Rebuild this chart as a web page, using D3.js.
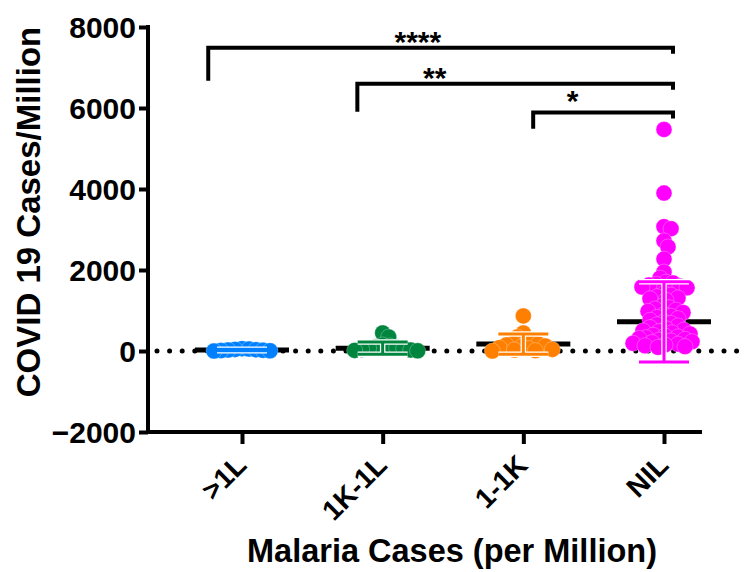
<!DOCTYPE html>
<html><head><meta charset="utf-8">
<script src="https://cdn.jsdelivr.net/npm/d3@7"></script>
<style>
body{margin:0;background:#fff}
svg{display:block}
text{font-family:"Liberation Sans",Arial,Helvetica,sans-serif;font-weight:bold;fill:#000}
</style>
</head><body>
<svg id="chart" width="748" height="572"></svg>
<script>
// ---------- data ----------
const categories = [">1L", "1K-1L", "1-1K", "NIL"];
const groupColors = ["#0080ff", "#00853f", "#ff8000", "#ff00ff"];

const valuesOver1L = [0, 6, 12, 18, 25, 32, 40, 48, 58];
const values1Kto1L = [445, 345, 150, 125, 105, 90, 70, 55, 40, 25, 15, 5];
const values1to1K = [865, 445, 345, 260, 230, 200, 175, 150, 125, 100, 80, 60, 40, 25, 10, 0];
const valuesNIL = [5470, 3900, 3070, 3020, 2720, 2570, 2270, 1950, 1800,
  1700, 1680, 1650, 1630, 1600, 1580, 1560,
  1420, 1380, 1340, 1310, 1290, 1250,
  1100, 1070, 1040, 1010, 980,
  950, 900, 860, 830, 800,
  760, 720, 680, 650, 620,
  580, 550, 520, 500, 480, 450, 420,
  390, 370, 350, 330, 310, 290, 270, 250, 230, 210,
  190, 170, 150, 130, 110, 90];

const groupMeans = [25, 70, 170, 720];
const groupSD = [20, 150, 250, 990];

const yTickValues = [-2000, 0, 2000, 4000, 6000, 8000];
const xTitle = "Malaria Cases (per Million)";
const yTitle = "COVID 19 Cases/Million";

const comparisonLabels = ["****", "**", "*"];
const comparisonFrom = [0, 1, 2];
const comparisonTo = [3, 3, 3];

// ---------- layout ----------
const svg = d3.select("#chart");
const axisX = 148, axisTop = 25, axisBottom = 432;
const y = d3.scaleLinear().domain([-2000, 8000]).range([432, 27]);
const x = d3.scalePoint().domain(categories).range([242, 664]);
const xi = d3.scaleLinear().domain([0, categories.length - 1]).range([242, 664]);

const groups = [valuesOver1L, values1Kto1L, values1to1K, valuesNIL];
const R = 8, DMIN = 7;

// zero dotted line
svg.append("line")
  .attr("x1", axisX + 9).attr("x2", 748)
  .attr("y1", y(0)).attr("y2", y(0))
  .attr("stroke", "#000").attr("stroke-width", 5)
  .attr("stroke-linecap", "round").attr("stroke-dasharray", "0,12.6");

// mean lines (behind dots)
categories.forEach((c, i) => {
  svg.append("line")
    .attr("x1", x(c) - 47).attr("x2", x(c) + 47)
    .attr("y1", y(groupMeans[i])).attr("y2", y(groupMeans[i]))
    .attr("stroke", "#000").attr("stroke-width", 5);
});

// beeswarm layout
function swarm(vals) {
  const pts = vals.map(v => ({ v, py: y(v) })).sort((a, b) => b.v - a.v);
  const placed = [];
  pts.forEach((p, idx) => {
    const sgn = idx % 2 ? 1 : -1;
    for (let k = 0; k < 400; k++) {
      const off = (k % 2 ? sgn : -sgn) * Math.ceil(k / 2);
      let ok = true;
      for (const q of placed) {
        const dx = off - q.off, dy = p.py - q.py;
        if (dx * dx + dy * dy < DMIN * DMIN) { ok = false; break; }
      }
      if (ok) { p.off = off; break; }
    }
    placed.push(p);
  });
  return placed;
}

groups.forEach((vals, i) => {
  const cx = x(categories[i]);
  const pts = swarm(vals);
  svg.append("g").selectAll("circle").data(pts).join("circle")
    .attr("cx", d => cx + d.off).attr("cy", d => d.py).attr("r", R)
    .attr("fill", groupColors[i]).attr("stroke", "#fff").attr("stroke-opacity", 0.45).attr("stroke-width", 0.6);
});

// error bars (SD)
categories.forEach((c, i) => {
  const cx = x(c);
  const lo = y(groupMeans[i] - groupSD[i]), hi = y(groupMeans[i] + groupSD[i]);
  const g = svg.append("g");
  [["#fff", 5.5], [groupColors[i], 3]].forEach(([col, w]) => {
    g.append("line").attr("x1", cx).attr("x2", cx).attr("y1", hi).attr("y2", lo)
      .attr("stroke", col).attr("stroke-width", w);
    [hi, lo].forEach(yy => g.append("line")
      .attr("x1", cx - 25).attr("x2", cx + 25).attr("y1", yy).attr("y2", yy)
      .attr("stroke", col).attr("stroke-width", w));
  });
});

// y axis
const yAxis = d3.axisLeft(y).tickValues(yTickValues).tickSize(9).tickPadding(3).tickFormat(d3.format("d"));
const gy = svg.append("g").attr("transform", `translate(${axisX},0)`).call(yAxis);
gy.select(".domain").remove();
gy.selectAll(".tick line").attr("stroke", "#000").attr("stroke-width", 4);
gy.selectAll(".tick text").attr("font-size", 30).attr("font-family", "Liberation Sans, Arial, sans-serif").attr("font-weight", "bold").attr("dy", "0.36em");
svg.append("line").attr("x1", axisX).attr("x2", axisX).attr("y1", axisTop).attr("y2", axisBottom + 2)
  .attr("stroke", "#000").attr("stroke-width", 4);

// x axis
svg.append("line").attr("x1", axisX - 2).attr("x2", 702).attr("y1", axisBottom).attr("y2", axisBottom)
  .attr("stroke", "#000").attr("stroke-width", 4);
const xAxis = d3.axisBottom(x).tickSize(12).tickFormat("");
const gx = svg.append("g").attr("transform", `translate(0,${axisBottom})`).call(xAxis);
gx.select(".domain").remove();
gx.selectAll(".tick line").attr("stroke", "#000").attr("stroke-width", 4);
svg.append("g").selectAll("text").data(categories).join("text")
  .attr("transform", d => `translate(${x(d) + 6},467) rotate(-45)`)
  .attr("text-anchor", "end").attr("font-size", 28).text(d => d);

// titles
svg.append("text").attr("x", 452).attr("y", 562).attr("text-anchor", "middle")
  .attr("font-size", 32.5).text(xTitle);
svg.append("text").attr("transform", "translate(40,212) rotate(-90)").attr("text-anchor", "middle")
  .attr("font-size", 33).text(yTitle);

// significance brackets
const bracketY = [7490, 6600, 5890];
const legBottom = [6675, 5910, 5490];
const legShift = [-0.24, -0.18, 0.07];
const starPos = [1.25, 1.37, 2.35];
const starBase = [52, 88, 111];
comparisonLabels.forEach((lab, i) => {
  const xl = xi(comparisonFrom[i] + legShift[i]);
  const xr = xi(comparisonTo[i]) + 9;
  const yb = y(bracketY[i]);
  svg.append("path")
    .attr("d", `M${xl},${y(legBottom[i])} V${yb} H${xr} V${yb + 6}`)
    .attr("fill", "none").attr("stroke", "#000").attr("stroke-width", 4);
  svg.append("text").attr("x", xi(starPos[i])).attr("y", starBase[i])
    .attr("text-anchor", "middle").attr("font-size", 30).text(lab);
});
</script>
</body></html>
